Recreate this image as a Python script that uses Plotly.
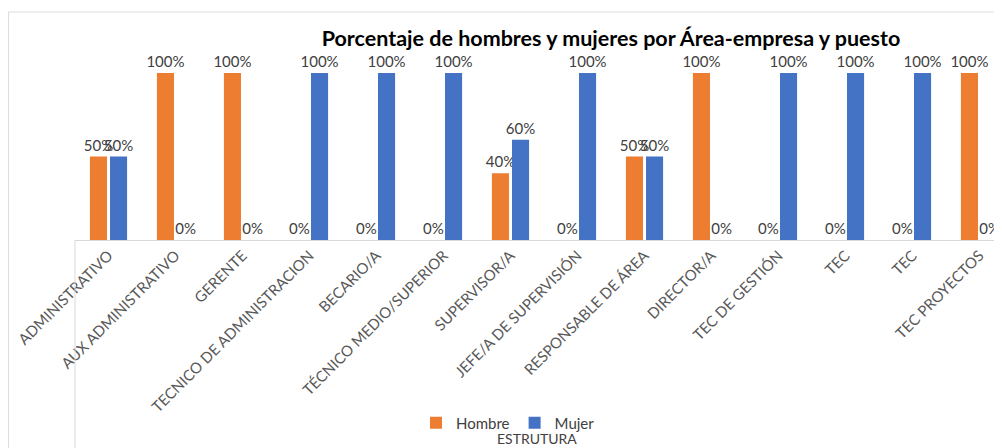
import plotly.graph_objects as go

puestos = [
    "ADMINISTRATIVO", "AUX ADMINISTRATIVO", "GERENTE", "TECNICO DE ADMINISTRACION",
    "BECARIO/A", "TÉCNICO MEDIO/SUPERIOR", "SUPERVISOR/A", "JEFE/A DE SUPERVISIÓN",
    "RESPONSABLE DE ÁREA", "DIRECTOR/A", "TEC DE GESTIÓN", "TEC", "TEC", "TEC PROYECTOS",
]
hombre = [0.5, 1, 1, 0, 0, 0, 0.4, 0, 0.5, 1, 0, 0, 0, 1]
mujer = [0.5, 0, 0, 1, 1, 1, 0.6, 1, 0.5, 0, 1, 1, 1, 0]

pos = list(range(len(puestos)))  # "TEC" appears twice, so index positions

# page body has an 8px margin, so the figure starts at (8, 8) on screen
OFF = 8
W, H = 1002 - OFF, 448 - OFF
L = 75 - OFF          # plot left edge (screen x 75)
T = 73 - OFF          # 100% level (screen y 73)
B = H - (240 - OFF)   # baseline at screen y 240
plot_w = W - L
plot_h = H - T - B
cat_w = 67            # px per category


def px_x(sx):
    return (sx - OFF - L) / plot_w


def px_y(sy):
    return (H - B - (sy - OFF)) / plot_h


fig = go.Figure()
for name, vals, color in [("Hombre", hombre, "#ED7D31"), ("Mujer", mujer, "#4472C4")]:
    fig.add_trace(
        go.Bar(
            x=pos,
            y=vals,
            name=name,
            marker=dict(color=color, line=dict(width=0)),
            text=[f"{v:.0%}" for v in vals],
            textposition="outside",
            constraintext="none",
            textfont=dict(size=15, color="#404040", family="Lato"),
            cliponaxis=False,
        )
    )

fig.update_layout(
    width=W,
    height=H,
    barmode="group",
    bargap=0.4,
    bargroupgap=0.15,
    plot_bgcolor="white",
    paper_bgcolor="white",
    font=dict(family="Lato", color="#595959"),
    margin=dict(l=L, r=0, t=T, b=B, autoexpand=False),
    title=dict(
        text="<b>Porcentaje de hombres y mujeres por Área-empresa y puesto</b>",
        x=px_x(611),
        xref="paper",
        xanchor="center",
        y=1 - (38 - OFF) / H,
        yanchor="middle",
        font=dict(size=21.5, color="#000000", family="Lato"),
    ),
    legend=dict(
        orientation="h",
        x=px_x(508),
        xanchor="center",
        y=px_y(423),
        yanchor="middle",
        font=dict(size=15, color="#404040"),
        itemwidth=30,
        traceorder="normal",
    ),
    annotations=[
        dict(
            text="ESTRUTURA",
            x=px_x(537),
            xref="paper",
            y=px_y(439),
            yref="paper",
            xanchor="center",
            yanchor="middle",
            showarrow=False,
            font=dict(size=14, color="#404040"),
        )
    ],
    shapes=[
        dict(type="line", xref="paper", yref="paper", x0=0, x1=0, y0=0, y1=px_y(448),
             line=dict(color="#D9D9D9", width=1)),
        dict(type="line", xref="paper", yref="paper", x0=px_x(8.5), x1=px_x(8.5),
             y0=px_y(12), y1=px_y(448), line=dict(color="#DDDDDD", width=1)),
        dict(type="line", xref="paper", yref="paper", x0=px_x(8.5), x1=1,
             y0=px_y(12), y1=px_y(12), line=dict(color="#DDDDDD", width=1)),
    ],
)

fig.update_xaxes(
    tickvals=pos,
    ticktext=puestos,
    tickangle=-45,
    tickfont=dict(size=15, color="#595959"),
    showline=True,
    linecolor="#D9D9D9",
    showgrid=False,
    ticks="",
    automargin=False,
    range=[-0.5, -0.5 + plot_w / cat_w],
)
fig.update_yaxes(
    range=[0, 1],
    visible=False,
    showgrid=False,
    zeroline=False,
)

fig.write_html("out.html")
